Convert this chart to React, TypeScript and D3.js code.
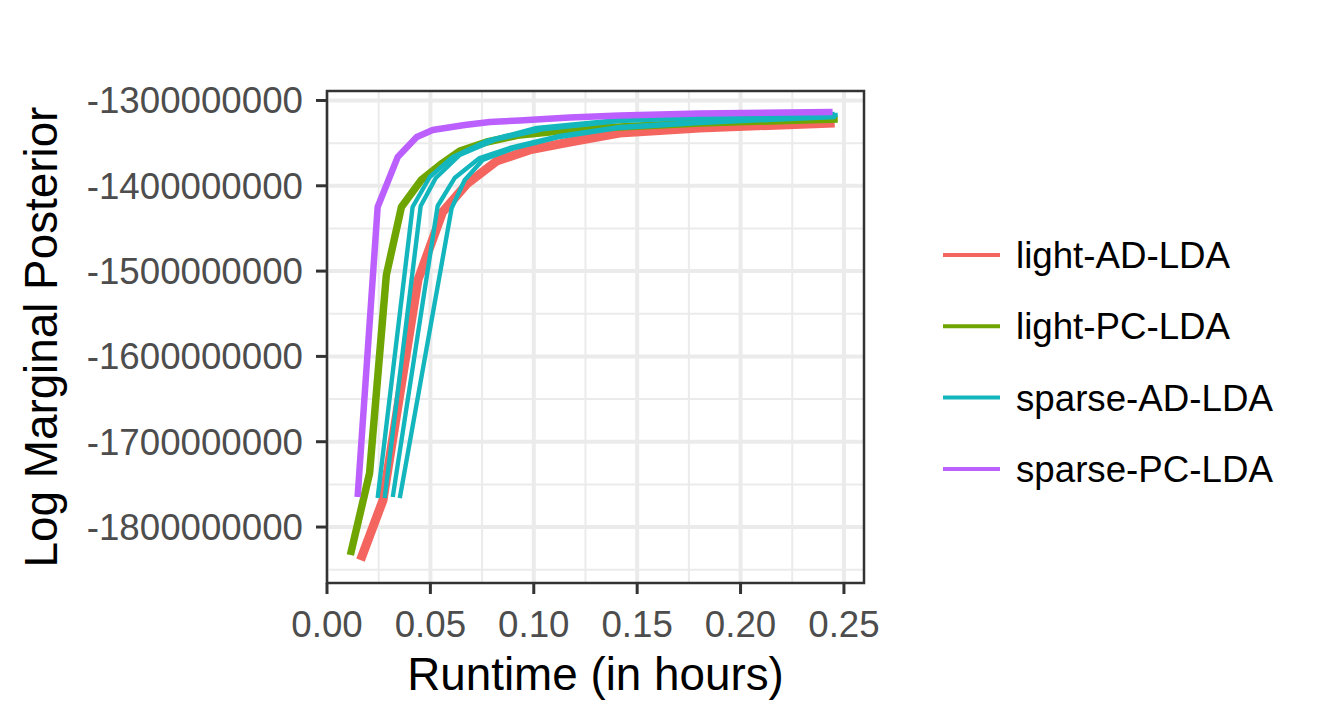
import React from "react";
import * as d3 from "d3";

// ---------- data ----------
const groups = ["light-AD-LDA", "light-PC-LDA", "sparse-AD-LDA", "sparse-PC-LDA"];
const groupColors = ["#F5655F", "#6FA500", "#14B6BD", "#BB60FF"];

// runtime (hours) and log marginal posterior (units of 1e9) per run
const lightAD_t = [0.0162, 0.0271, 0.044, 0.0559, 0.0676, 0.0821, 0.098, 0.1174, 0.1415, 0.1802, 0.2455];
const lightAD_v = [-1.8387, -1.7684, -1.5104, -1.4307, -1.3979, -1.3709, -1.358, -1.3487, -1.3381, -1.3322, -1.3264];

const lightPC_t = [0.0113, 0.0206, 0.0287, 0.036, 0.0456, 0.0559, 0.0642, 0.0772, 0.0932, 0.1174, 0.1415, 0.1802, 0.247];
const lightPC_v = [-1.8328, -1.7367, -1.5046, -1.4249, -1.3932, -1.3733, -1.3592, -1.3487, -1.3404, -1.3346, -1.3311, -1.3264, -1.3217];

const sparseAD1_t = [0.0245, 0.0414, 0.0497, 0.0608, 0.0772, 0.1014, 0.1415, 0.1802, 0.2455];
const sparseAD1_v = [-1.766, -1.4249, -1.3897, -1.3662, -1.3475, -1.3322, -1.3229, -1.3193, -1.3158];
const sparseAD2_t = [0.0279, 0.0453, 0.0526, 0.0642, 0.0811, 0.1053, 0.1415, 0.1802, 0.247];
const sparseAD2_v = [-1.766, -1.4237, -1.3909, -1.3639, -1.3463, -1.3334, -1.324, -1.3205, -1.317];
const sparseAD3_t = [0.0318, 0.0535, 0.0617, 0.0738, 0.0883, 0.1125, 0.1415, 0.1802, 0.246];
const sparseAD3_v = [-1.7648, -1.4237, -1.3909, -1.3674, -1.3557, -1.3416, -1.3311, -1.3252, -1.3182];
const sparseAD4_t = [0.0352, 0.0603, 0.0666, 0.0753, 0.0908, 0.1125, 0.1415, 0.1802, 0.246];
const sparseAD4_v = [-1.766, -1.426, -1.3932, -1.3698, -1.3557, -1.3428, -1.3322, -1.3264, -1.3193];

const sparsePC_t = [0.0148, 0.0245, 0.0342, 0.0434, 0.0511, 0.0666, 0.0787, 0.0932, 0.1174, 0.1415, 0.1802, 0.2445];
const sparsePC_v = [-1.7648, -1.4249, -1.3662, -1.3428, -1.3346, -1.3287, -1.3252, -1.3234, -1.3199, -1.3176, -1.3152, -1.3135];

const runs = [
  { group: 0, t: lightAD_t, v: lightAD_v },
  { group: 1, t: lightPC_t, v: lightPC_v },
  { group: 2, t: sparseAD1_t, v: sparseAD1_v },
  { group: 2, t: sparseAD2_t, v: sparseAD2_v },
  { group: 2, t: sparseAD3_t, v: sparseAD3_v },
  { group: 2, t: sparseAD4_t, v: sparseAD4_v },
  { group: 3, t: sparsePC_t, v: sparsePC_v },
];

const xTicks = [0, 0.05, 0.1, 0.15, 0.2, 0.25];
const xMinor = [0.025, 0.075, 0.125, 0.175, 0.225];
const yTicks = [-1.3e9, -1.4e9, -1.5e9, -1.6e9, -1.7e9, -1.8e9];
const yMinor = [-1.35e9, -1.45e9, -1.55e9, -1.65e9, -1.75e9, -1.85e9];

// ---------- styles ----------
const FONT = "'Liberation Sans', Arial, Helvetica, sans-serif";
const runWidths = [9, 7.5, 4.4, 6.5];

export default function App() {
  const W = 1320, H = 720;
  const left = 327, right = 864, top = 91, bottom = 583;

  const x = d3.scaleLinear().domain([0, 0.2597]).range([left, right]);
  const y = d3.scaleLinear().domain([-1.2889e9, -1.8656e9]).range([top, bottom]);

  const line = d3
    .line<[number, number]>()
    .x((d) => x(d[0]))
    .y((d) => y(d[1] * 1e9));

  const legendY0 = 255, legendStep = 71.3;

  return (
    <svg width={W} height={H} style={{ position: "absolute", left: 0, top: 0, background: "#fff" }} fontFamily={FONT}>
      <rect x={0} y={0} width={W} height={H} fill="#fff" />
      {/* grid */}
      <g>
        {xMinor.map((t) => (
          <line key={"xm" + t} x1={x(t)} x2={x(t)} y1={top} y2={bottom} stroke="#EBEBEB" strokeWidth={2} />
        ))}
        {yMinor.filter((v) => y(v) > top && y(v) < bottom).map((v) => (
          <line key={"ym" + v} x1={left} x2={right} y1={y(v)} y2={y(v)} stroke="#EBEBEB" strokeWidth={2} />
        ))}
        {xTicks.map((t) => (
          <line key={"xM" + t} x1={x(t)} x2={x(t)} y1={top} y2={bottom} stroke="#EBEBEB" strokeWidth={4} />
        ))}
        {yTicks.map((v) => (
          <line key={"yM" + v} x1={left} x2={right} y1={y(v)} y2={y(v)} stroke="#EBEBEB" strokeWidth={4} />
        ))}
      </g>
      {/* lines */}
      <g fill="none" strokeLinejoin="round" strokeLinecap="butt">
        {runs.map((r, i) => (
          <path
            key={i}
            d={line(r.t.map((t, j) => [t, r.v[j]] as [number, number])) || ""}
            stroke={groupColors[r.group]}
            strokeWidth={runWidths[r.group]}
          />
        ))}
      </g>
      {/* panel border */}
      <rect x={left} y={top} width={right - left} height={bottom - top} fill="none" stroke="#333333" strokeWidth={2.5} />
      {/* x axis */}
      <g>
        {xTicks.map((t) => (
          <g key={"xt" + t}>
            <line x1={x(t)} x2={x(t)} y1={bottom} y2={bottom + 11} stroke="#333333" strokeWidth={3} />
            <text x={x(t)} y={bottom + 54} textAnchor="middle" fontSize={36.7} fill="#4D4D4D">
              {d3.format(".2f")(t)}
            </text>
          </g>
        ))}
      </g>
      {/* y axis */}
      <g>
        {yTicks.map((v) => (
          <g key={"yt" + v}>
            <line x1={left - 11} x2={left} y1={y(v)} y2={y(v)} stroke="#333333" strokeWidth={3} />
            <text x={left - 24} y={y(v) + 13} textAnchor="end" fontSize={36.7} fill="#4D4D4D">
              {"-" + String(Math.abs(v))}
            </text>
          </g>
        ))}
      </g>
      {/* axis titles */}
      <text x={(left + right) / 2} y={690} textAnchor="middle" fontSize={45.8} fill="#000">
        Runtime (in hours)
      </text>
      <text
        transform={`translate(57,${(top + bottom) / 2}) rotate(-90)`}
        textAnchor="middle"
        fontSize={45.8}
        fill="#000"
      >
        Log Marginal Posterior
      </text>
      {/* legend */}
      <g>
        {groups.map((g, i) => (
          <g key={g}>
            <line
              x1={943}
              x2={1000}
              y1={legendY0 + i * legendStep}
              y2={legendY0 + i * legendStep}
              stroke={groupColors[i]}
              strokeWidth={4}
            />
            <text x={1016} y={legendY0 + i * legendStep + 13} fontSize={36.7} fill="#000">
              {g}
            </text>
          </g>
        ))}
      </g>
    </svg>
  );
}
